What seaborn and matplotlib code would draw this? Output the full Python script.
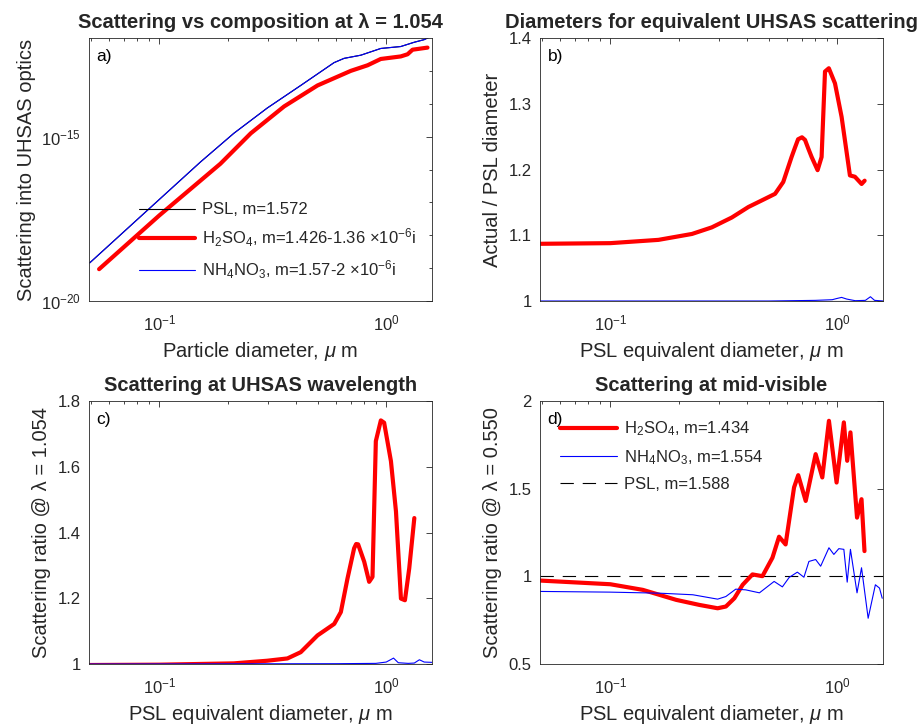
import numpy as np
import pandas as pd
import matplotlib
matplotlib.use('Agg')
import matplotlib.pyplot as plt
import seaborn as sns
from matplotlib.ticker import FuncFormatter, NullFormatter, FixedLocator, LogLocator
from matplotlib.lines import Line2D

# ---- data ----
# a) scattering into UHSAS optics vs particle diameter
a_psl_d = [0.0494, 0.087, 0.152, 0.213, 0.299, 0.420, 0.589, 0.652, 0.773, 0.946, 1.159, 1.327, 1.469, 1.574]
a_psl_s = [1.45e-19, 5.1e-18, 1.7e-16, 1.26e-15, 7.4e-15, 3.6e-14, 1.78e-13, 2.4e-13, 3.0e-13, 4.8e-13,
           5.5e-13, 7.4e-13, 8.9e-13, 1.12e-12]
a_h2so4_d = [0.0543, 0.100, 0.186, 0.253, 0.355, 0.498, 0.698, 0.828, 0.946, 1.159, 1.242, 1.306, 1.52]
a_h2so4_s = [9.3e-20, 4.0e-18, 1.5e-16, 1.26e-15, 8.3e-15, 3.6e-14, 1.0e-13, 1.48e-13, 2.3e-13, 2.75e-13,
             3.2e-13, 4.4e-13, 5.1e-13]
a_nh4_d = [0.0494, 0.087, 0.152, 0.213, 0.299, 0.420, 0.589, 0.652, 0.773, 0.946, 1.159, 1.327, 1.469, 1.574]
a_nh4_s = [1.45e-19, 5.1e-18, 1.7e-16, 1.26e-15, 7.4e-15, 3.6e-14, 1.78e-13, 2.4e-13, 3.0e-13, 4.8e-13,
           5.5e-13, 7.4e-13, 8.9e-13, 1.12e-12]

# b) actual / PSL diameter
b_psl_d = [0.049, 1.6]
b_psl_r = [1.0, 1.0]
b_h2so4_d = [0.0484, 0.1, 0.163, 0.229, 0.280, 0.343, 0.406, 0.465, 0.532, 0.578, 0.629, 0.649,
             0.672, 0.699, 0.721, 0.745, 0.771, 0.819, 0.853, 0.883, 0.918, 0.977, 1.045, 1.137,
             1.196, 1.28, 1.32]
b_h2so4_r = [1.087, 1.088, 1.093, 1.102, 1.112, 1.127, 1.143, 1.153, 1.163, 1.181, 1.219, 1.232,
             1.246, 1.249, 1.245, 1.232, 1.219, 1.199, 1.219, 1.349, 1.354, 1.331, 1.280, 1.191,
             1.189, 1.178, 1.183]
b_nh4_d = [0.049, 0.5, 0.8, 0.95, 1.0, 1.045, 1.10, 1.2, 1.33, 1.40, 1.46, 1.6]
b_nh4_r = [1.0, 1.0, 1.001, 1.002, 1.004, 1.0055, 1.003, 1.0005, 1.001, 1.0065, 1.001, 1.0]

# c) scattering ratio at 1.054 um
c_psl_d = [0.049, 1.6]
c_psl_r = [1.0, 1.0]
c_h2so4_d = [0.049, 0.1, 0.213, 0.299, 0.367, 0.420, 0.498, 0.590, 0.631, 0.675, 0.722, 0.737,
             0.752, 0.800, 0.841, 0.870, 0.900, 0.947, 0.979, 1.049, 1.104, 1.161, 1.209, 1.263, 1.330]
c_h2so4_r = [0.997, 0.998, 1.002, 1.010, 1.017, 1.036, 1.087, 1.122, 1.158, 1.260, 1.352, 1.365,
             1.364, 1.311, 1.250, 1.265, 1.678, 1.741, 1.734, 1.617, 1.464, 1.199, 1.194, 1.291, 1.444]
c_nh4_d = [0.049, 0.6, 0.9, 1.0, 1.077, 1.13, 1.25, 1.33, 1.40, 1.47, 1.6]
c_nh4_r = [1.0, 1.001, 1.002, 1.006, 1.018, 1.004, 1.002, 1.003, 1.013, 1.006, 1.005]

# d) scattering ratio at 0.550 um
d_psl_d = [0.049, 1.6]
d_psl_r = [1.0, 1.0]
d_h2so4_d = [0.049, 0.1, 0.139, 0.195, 0.247, 0.297, 0.323, 0.352, 0.383, 0.423, 0.468, 0.518,
             0.554, 0.592, 0.645, 0.673, 0.726, 0.803, 0.859, 0.919, 0.993, 1.069, 1.106, 1.143,
             1.222, 1.279, 1.318]
d_h2so4_r = [0.976, 0.955, 0.923, 0.866, 0.837, 0.818, 0.828, 0.875, 0.952, 1.011, 1.001, 1.106,
             1.226, 1.182, 1.507, 1.577, 1.430, 1.697, 1.564, 1.887, 1.535, 1.878, 1.659, 1.821,
             1.335, 1.440, 1.144]
d_nh4_d = [0.049, 0.1, 0.165, 0.231, 0.297, 0.323, 0.357, 0.395, 0.454, 0.527, 0.573, 0.614,
           0.667, 0.713, 0.750, 0.803, 0.845, 0.919, 0.966, 1.016, 1.069, 1.106, 1.143, 1.222,
           1.279, 1.368, 1.472, 1.535, 1.578]
d_nh4_r = [0.914, 0.910, 0.904, 0.895, 0.870, 0.885, 0.927, 0.923, 0.906, 0.971, 0.940, 0.994,
           1.024, 0.995, 1.085, 1.096, 1.058, 1.163, 1.125, 1.158, 1.154, 0.967, 1.154, 0.906,
           1.049, 0.761, 0.952, 0.933, 0.875]

x_lim = (0.049, 1.59)
tick_col = '#262626'
lab_fs, title_fs = 14.5, 14.5

sns.set_style('white')
plt.rcParams['font.family'] = ['Liberation Sans', 'DejaVu Sans']
plt.rcParams['mathtext.fontset'] = 'custom'
plt.rcParams['mathtext.rm'] = 'Liberation Sans'
plt.rcParams['mathtext.it'] = 'Liberation Sans:italic'
plt.rcParams['mathtext.bf'] = 'Liberation Sans:bold'

fig = plt.figure(figsize=(9.19, 7.25), dpi=100)
ax_a = fig.add_axes([0.0968, 0.5848, 0.3732, 0.3628])
ax_b = fig.add_axes([0.5876, 0.5848, 0.3732, 0.3628])
ax_c = fig.add_axes([0.0968, 0.0841, 0.3732, 0.3628])
ax_d = fig.add_axes([0.5876, 0.0841, 0.3732, 0.3628])

thick, thin = 3.0, 0.8


def style(ax, letter):
    ax.set_xscale('log')
    ax.set_xlim(*x_lim)
    ax.xaxis.set_major_locator(LogLocator(base=10))
    ax.xaxis.set_minor_locator(LogLocator(base=10, subs=np.arange(2, 10)))
    ax.xaxis.set_minor_formatter(NullFormatter())
    ax.tick_params(which='both', direction='in', top=True, right=True,
                   colors=tick_col, labelsize=12, width=0.6)
    ax.tick_params(which='major', length=4.5)
    ax.tick_params(axis='x', which='major', pad=9)
    ax.tick_params(axis='y', which='major', pad=6)
    ax.tick_params(which='minor', length=2.5)
    for s in ax.spines.values():
        s.set_color(tick_col)
        s.set_linewidth(0.6)
    ax.text(0.022, 0.93, letter, transform=ax.transAxes, fontsize=12.5,
            va='center', ha='left', color='black')
    ax.set_xlabel('PSL equivalent diameter, $\\mu$ m', fontsize=lab_fs, color=tick_col, labelpad=5)


fmt_g = FuncFormatter(lambda v, p: '%g' % v)

# a)
sns.lineplot(x=a_psl_d, y=a_psl_s, ax=ax_a, color='black', lw=thin, label='PSL, m=1.572')
sns.lineplot(x=a_h2so4_d, y=a_h2so4_s, ax=ax_a, color='red', lw=thick,
             label='H$_2$SO$_4$, m=1.426-1.36 $\\times$10$^{-6}$i')
sns.lineplot(x=a_nh4_d, y=a_nh4_s, ax=ax_a, color='blue', lw=thin,
             label='NH$_4$NO$_3$, m=1.57-2 $\\times$10$^{-6}$i')
ax_a.set_yscale('log')
style(ax_a, 'a)')
ax_a.set_ylim(1e-20, 1e-12)
ax_a.yaxis.set_major_locator(FixedLocator([1e-20, 1e-15]))
ax_a.yaxis.set_minor_locator(FixedLocator([1e-19, 1e-18, 1e-17, 1e-16, 1e-14, 1e-13]))
ax_a.yaxis.set_minor_formatter(NullFormatter())
ax_a.set_xlabel('Particle diameter, $\\mu$ m', fontsize=lab_fs, color=tick_col, labelpad=5)
ax_a.set_ylabel('Scattering into UHSAS optics', fontsize=lab_fs, color=tick_col, labelpad=3)
ax_a.set_title('Scattering vs composition at λ = 1.054', fontsize=title_fs, fontweight='bold', pad=7)
ax_a.legend(frameon=False, loc='upper left', bbox_to_anchor=(0.145, 0.375), fontsize=12,
            handlelength=3.4, handletextpad=0.4, labelspacing=0.55, borderpad=0, borderaxespad=0)

# b)
sns.lineplot(x=b_psl_d, y=b_psl_r, ax=ax_b, color='black', lw=thin)
sns.lineplot(x=b_h2so4_d, y=b_h2so4_r, ax=ax_b, color='red', lw=thick)
sns.lineplot(x=b_nh4_d, y=b_nh4_r, ax=ax_b, color='blue', lw=thin)
style(ax_b, 'b)')
ax_b.set_ylim(1.0, 1.4)
ax_b.set_yticks([1.0, 1.1, 1.2, 1.3, 1.4])
ax_b.yaxis.set_major_formatter(fmt_g)
ax_b.set_ylabel('Actual / PSL diameter', fontsize=lab_fs, color=tick_col, labelpad=5)
ax_b.set_title('Diameters for equivalent UHSAS scattering', fontsize=title_fs, fontweight='bold', pad=7)

# c)
sns.lineplot(x=c_psl_d, y=c_psl_r, ax=ax_c, color='black', lw=thin)
sns.lineplot(x=c_h2so4_d, y=c_h2so4_r, ax=ax_c, color='red', lw=thick)
sns.lineplot(x=c_nh4_d, y=c_nh4_r, ax=ax_c, color='blue', lw=thin)
style(ax_c, 'c)')
ax_c.set_ylim(1.0, 1.8)
ax_c.set_yticks([1.0, 1.2, 1.4, 1.6, 1.8])
ax_c.yaxis.set_major_formatter(fmt_g)
ax_c.set_ylabel('Scattering ratio @ λ = 1.054', fontsize=lab_fs, color=tick_col, labelpad=5)
ax_c.set_title('Scattering at UHSAS wavelength', fontsize=title_fs, fontweight='bold', pad=7)

# d)
sns.lineplot(x=d_psl_d, y=d_psl_r, ax=ax_d, color='black', lw=thin, dashes=False,
             linestyle=(0, (12, 8)))
sns.lineplot(x=d_h2so4_d, y=d_h2so4_r, ax=ax_d, color='red', lw=thick)
sns.lineplot(x=d_nh4_d, y=d_nh4_r, ax=ax_d, color='blue', lw=thin)
style(ax_d, 'd)')
ax_d.set_ylim(0.5, 2.0)
ax_d.set_yticks([0.5, 1.0, 1.5, 2.0])
ax_d.yaxis.set_major_formatter(fmt_g)
ax_d.set_ylabel('Scattering ratio @ λ = 0.550', fontsize=lab_fs, color=tick_col, labelpad=5)
ax_d.set_title('Scattering at mid-visible', fontsize=title_fs, fontweight='bold', pad=7)
h_d = [Line2D([], [], color='red', lw=thick),
       Line2D([], [], color='blue', lw=thin),
       Line2D([], [], color='black', lw=thin, linestyle=(0, (12, 8)))]
ax_d.legend(h_d, ['H$_2$SO$_4$, m=1.434', 'NH$_4$NO$_3$, m=1.554', 'PSL, m=1.588'],
            frameon=False, loc='upper left', bbox_to_anchor=(0.058, 0.93), fontsize=12,
            handlelength=3.4, handletextpad=0.45, labelspacing=0.6, borderpad=0, borderaxespad=0)

fig.savefig('out.png', dpi=100)
